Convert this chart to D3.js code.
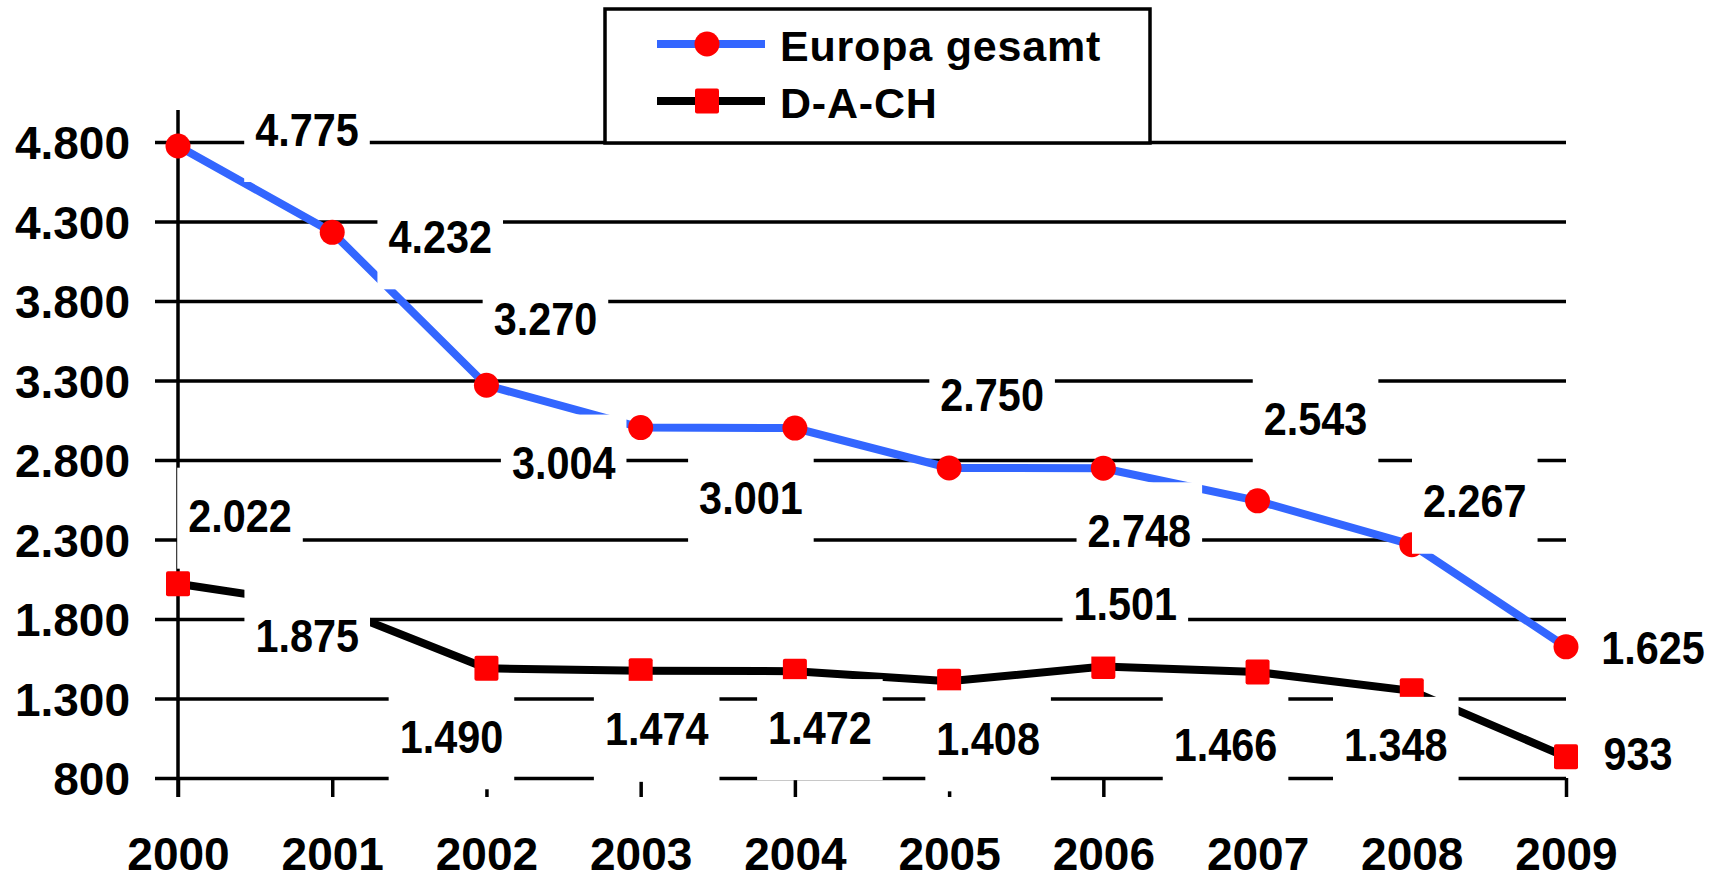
<!DOCTYPE html>
<html>
<head>
<meta charset="utf-8">
<script src="https://cdn.jsdelivr.net/npm/d3@7"></script>
<style>
  html, body { margin: 0; padding: 0; background: #fff; }
  svg { display: block; }
  text { font-family: "Liberation Sans", Arial, sans-serif; font-weight: bold; fill: #000; }
</style>
</head>
<body>
<svg id="chart" width="1727" height="882"></svg>
<script>
// ---- data ----
const years = [2000, 2001, 2002, 2003, 2004, 2005, 2006, 2007, 2008, 2009];
const europaGesamt = [4775, 4232, 3270, 3004, 3001, 2750, 2748, 2543, 2267, 1625];
const dach = [2022, 1875, 1490, 1474, 1472, 1408, 1501, 1466, 1348, 933];
const yTickValues = [800, 1300, 1800, 2300, 2800, 3300, 3800, 4300, 4800];
const seriesNames = ["Europa gesamt", "D-A-CH"];

// label placement offsets (px, relative to the point)
const europaLabelOffsets = [[129,-17],[108,4],[59,-67],[-77,35],[-44,69],[43,-74],[36,62],[58,-82],[63,-44],[87,1]];
const dachLabelOffsets = [[62,-68],[-25,28],[-35,68],[16,58],[25,56],[39,57],[22,-63],[-32,72],[-16,54],[72,-3]];

// ---- setup ----
const svg = d3.select("#chart");
const locale = d3.formatLocale({decimal: ",", thousands: ".", grouping: [3], currency: ["", "€"]});
const fmt = locale.format(",d");

const x = d3.scalePoint().domain(years).range([178, 1566]);
const y = d3.scaleLinear().domain([800, 4800]).range([778, 142]);

const BLUE = "#3366ff", RED = "#ff0000";

// gridlines
const yAxis = d3.axisLeft(y).tickValues(yTickValues).tickSize(-(1566 - 155)).tickFormat(fmt).tickPadding(0);
const gy = svg.append("g").attr("transform", "translate(155,0)").call(yAxis);
gy.select(".domain").remove();
gy.selectAll(".tick line").attr("stroke", "#000").attr("stroke-width", 3.5);
gy.selectAll(".tick text")
  .attr("x", -25).attr("dy", "0.36em")
  .style("font-size", "46px").style("font-family", "'Liberation Sans', Arial, sans-serif")
  .style("font-weight", "bold").attr("fill", "#000");

// vertical axis line
svg.append("line").attr("x1", x(2000)).attr("x2", x(2000)).attr("y1", 110).attr("y2", 797)
  .attr("stroke", "#000").attr("stroke-width", 3.5);

// x axis ticks & labels
const xAxis = d3.axisBottom(x).tickSize(19).tickPadding(0).tickFormat(d => d);
const gx = svg.append("g").attr("transform", `translate(0,${y(800)})`).call(xAxis);
gx.select(".domain").remove();
gx.selectAll(".tick line").attr("stroke", "#000").attr("stroke-width", 3.5);
gx.selectAll(".tick text")
  .attr("y", 92).attr("dy", 0)
  .style("font-size", "46px").style("font-family", "'Liberation Sans', Arial, sans-serif")
  .style("font-weight", "bold").attr("fill", "#000");

// lines
const line = d3.line().x((d, i) => x(years[i])).y(d => y(d));
svg.append("path").datum(dach).attr("d", line).attr("fill", "none")
  .attr("stroke", "#000").attr("stroke-width", 8).attr("stroke-linejoin", "miter");
svg.append("path").datum(europaGesamt).attr("d", line).attr("fill", "none")
  .attr("stroke", BLUE).attr("stroke-width", 8).attr("stroke-linejoin", "miter");

// markers
svg.append("g").selectAll("rect").data(dach).join("rect")
  .attr("x", (d, i) => x(years[i]) - 12).attr("y", d => y(d) - 12.5)
  .attr("width", 24).attr("height", 25).attr("rx", 2).attr("fill", RED);
svg.append("g").selectAll("circle").data(europaGesamt).join("circle")
  .attr("cx", (d, i) => x(years[i])).attr("cy", d => y(d)).attr("r", 12.5).attr("fill", RED);

// data labels with white boxes
function drawLabels(values, offsets) {
  const g = svg.append("g");
  values.forEach((v, i) => {
    const cx = x(years[i]) + offsets[i][0];
    const cy = y(v) + offsets[i][1];
    const lg = g.append("g");
    const rect = lg.append("rect").attr("fill", "#fff");
    const t = lg.append("text")
      .attr("transform", `translate(${cx},${cy}) scale(0.9,1)`)
      .attr("text-anchor", "middle").attr("dy", "0.36em")
      .style("font-size", "46px").text(fmt(v));
    const w = t.node().getComputedTextLength() * 0.9;
    rect.attr("x", cx - w / 2 - 11).attr("width", w + 22)
      .attr("y", cy - 48).attr("height", 101);
  });
}
drawLabels(europaGesamt, europaLabelOffsets);
drawLabels(dach, dachLabelOffsets);

// legend
const lg = svg.append("g");
lg.append("rect").attr("x", 605).attr("y", 9).attr("width", 545).attr("height", 134)
  .attr("fill", "#fff").attr("stroke", "#000").attr("stroke-width", 3.5);
const legendItems = [
  {name: seriesNames[0], color: BLUE, marker: "circle", yy: 44},
  {name: seriesNames[1], color: "#000", marker: "square", yy: 101}
];
legendItems.forEach(it => {
  lg.append("line").attr("x1", 657).attr("x2", 765).attr("y1", it.yy).attr("y2", it.yy)
    .attr("stroke", it.color).attr("stroke-width", 8);
  if (it.marker === "circle") {
    lg.append("circle").attr("cx", 707).attr("cy", it.yy).attr("r", 12.5).attr("fill", RED);
  } else {
    lg.append("rect").attr("x", 695).attr("y", it.yy - 12.5).attr("width", 24).attr("height", 25)
      .attr("rx", 2).attr("fill", RED);
  }
  lg.append("text").attr("x", 780).attr("y", it.yy + 17).style("font-size", "43px")
    .style("letter-spacing", "0.8px").text(it.name);
});
</script>
</body>
</html>
